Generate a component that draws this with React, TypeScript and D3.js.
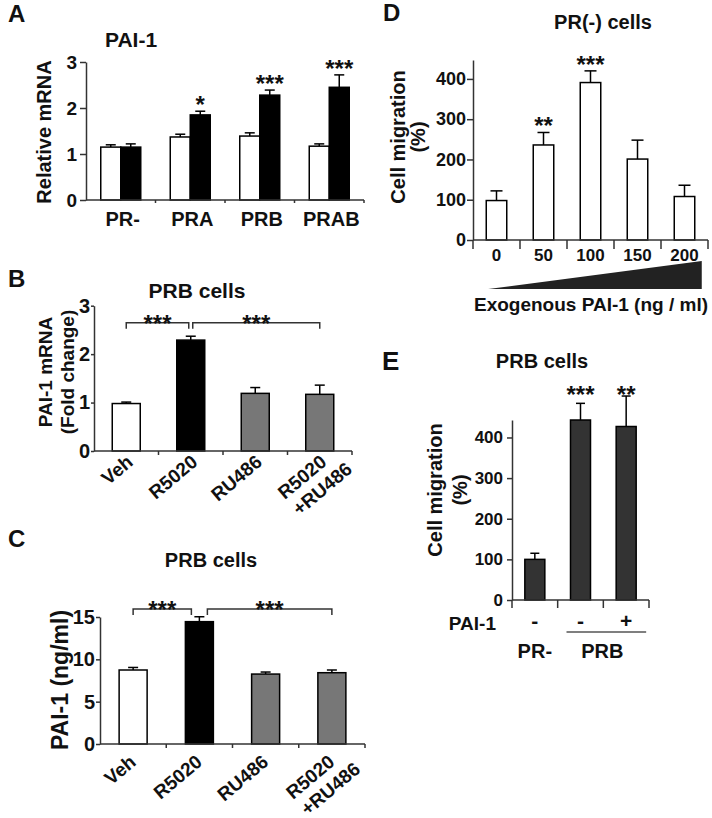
import { useEffect, useRef } from 'react';
import * as d3 from 'd3';

const FONT = '"Liberation Sans", Arial, Helvetica, sans-serif';
const AXIS = '#333';
const INK = '#111';

// Panel A: PAI-1 relative mRNA, control (white) vs R5020 (black)
const aCategories = ['PR-', 'PRA', 'PRB', 'PRAB'];
const aSeries = ['control', 'treated'];
const aControl = [1.15, 1.37, 1.39, 1.17];
const aControlErr = [0.05, 0.06, 0.07, 0.05];
const aTreated = [1.15, 1.85, 2.28, 2.45];
const aTreatedErr = [0.07, 0.08, 0.11, 0.27];
const aStars = ['', '*', '***', '***'];
const aTicks = [0, 1, 2, 3];

// Panel B: PAI-1 mRNA fold change in PRB cells
const bCategories = [['Veh'], ['R5020'], ['RU486'], ['R5020', '+RU486']];
const bValues = [0.98, 2.29, 1.19, 1.17];
const bErr = [0.03, 0.08, 0.12, 0.19];
const bFills = ['#fff', '#000', '#777', '#777'];
const bTicks = [0, 1, 2, 3];
const bBrackets = [
  { from: 0, to: 1, label: '***' },
  { from: 1, to: 3, label: '***' },
];
const bBracketLevel = 2.65;

// Panel C: secreted PAI-1 (ng/ml) in PRB cells
const cValues = [8.74, 14.45, 8.26, 8.42];
const cErr = [0.3, 0.58, 0.24, 0.32];
const cTicks = [0, 5, 10, 15];
const cBracketLevel = 15.94;

// Panel D: PR(-) cell migration vs exogenous PAI-1
const dCategories = ['0', '50', '100', '150', '200'];
const dValues = [98, 236, 391, 201, 108];
const dErr = [24, 31, 29, 47, 28];
const dStars = ['', '**', '***', '', ''];
const dTicks = [0, 100, 200, 300, 400];

// Panel E: PRB cell migration
const eCategories = ['PR- / -', 'PRB / -', 'PRB / +'];
const ePai1 = ['-', '-', '+'];
const eValues = [100, 443, 427];
const eErr = [15, 41, 75];
const eStars = ['', '***', '**'];
const eTicks = [0, 100, 200, 300, 400];

const STAR = 24;

type G = d3.Selection<SVGGElement, unknown, null, undefined>;

function txt(g: G, x: number, y: number, t: string, size: number, anchor = 'middle') {
  return g
    .append('text')
    .attr('x', x)
    .attr('y', y)
    .attr('text-anchor', anchor)
    .attr('font-family', FONT)
    .attr('font-weight', 'bold')
    .attr('font-size', size)
    .attr('fill', INK)
    .text(t);
}

function vtxt(g: G, cx: number, cy: number, t: string, size: number) {
  g.append('text')
    .attr('transform', `translate(${cx},${cy}) rotate(-90)`)
    .attr('text-anchor', 'middle')
    .attr('dy', '0.35em')
    .attr('font-family', FONT)
    .attr('font-weight', 'bold')
    .attr('font-size', size)
    .attr('fill', INK)
    .text(t);
}

function leftAxis(g: G, y: d3.ScaleLinear<number, number>, x0: number, ticks: number[], size: number, tickSize: number, pad: number) {
  const ax = g
    .append('g')
    .attr('transform', `translate(${x0},0)`)
    .call(d3.axisLeft(y).tickValues(ticks).tickSize(tickSize).tickSizeOuter(0).tickPadding(pad).tickFormat(d3.format('d')));
  ax.attr('font-family', FONT).attr('font-size', size);
  ax.select('.domain').attr('stroke', AXIS).attr('stroke-width', 1.5);
  ax.selectAll('.tick line').attr('stroke', AXIS).attr('stroke-width', 1.5);
  ax.selectAll('.tick text').attr('font-weight', 'bold').attr('fill', INK);
}

function bottomAxis(g: G, x: d3.ScaleBand<string>, y0: number, tickLen: number, from: number) {
  const [r0, r1] = x.range();
  g.append('line').attr('x1', r0).attr('x2', r1).attr('y1', y0).attr('y2', y0).attr('stroke', AXIS).attr('stroke-width', 1.5);
  g.selectAll(null)
    .data(d3.range(from, x.domain().length + 1))
    .join('line')
    .attr('x1', (i) => r0 + i * x.step())
    .attr('x2', (i) => r0 + i * x.step())
    .attr('y1', y0)
    .attr('y2', y0 + tickLen)
    .attr('stroke', AXIS)
    .attr('stroke-width', 1.5);
}

function band(domain: string[], r0: number, r1: number, barW: number) {
  const step = (r1 - r0) / domain.length;
  const pi = 1 - barW / step;
  return d3.scaleBand().domain(domain).range([r0, r1]).paddingInner(pi).paddingOuter(pi / 2);
}

type BarDatum = { x: number; w: number; v: number; e: number; fill: string };

function bars(g: G, y: d3.ScaleLinear<number, number>, data: BarDatum[], cap: number) {
  g.selectAll(null)
    .data(data)
    .join('line')
    .attr('x1', (d) => d.x + d.w / 2)
    .attr('x2', (d) => d.x + d.w / 2)
    .attr('y1', (d) => y(d.v))
    .attr('y2', (d) => y(d.v + d.e))
    .attr('stroke', '#000')
    .attr('stroke-width', 1.5);
  g.selectAll(null)
    .data(data)
    .join('line')
    .attr('x1', (d) => d.x + d.w / 2 - cap)
    .attr('x2', (d) => d.x + d.w / 2 + cap)
    .attr('y1', (d) => y(d.v + d.e))
    .attr('y2', (d) => y(d.v + d.e))
    .attr('stroke', '#000')
    .attr('stroke-width', 1.5);
  g.selectAll(null)
    .data(data)
    .join('rect')
    .attr('x', (d) => d.x)
    .attr('y', (d) => y(d.v))
    .attr('width', (d) => d.w)
    .attr('height', (d) => y(0) - y(d.v))
    .attr('fill', (d) => d.fill)
    .attr('stroke', '#000')
    .attr('stroke-width', 1.5);
}

function rotatedLabels(g: G, x: d3.ScaleBand<string>, keys: string[], lines: string[][], y0: number, dx: number, dy: number, size: number) {
  keys.forEach((k, i) => {
    const t = g
      .append('text')
      .attr('transform', `translate(${x(k)! + x.bandwidth() / 2 + dx},${y0 + dy}) rotate(-40)`)
      .attr('text-anchor', 'end')
      .attr('font-family', FONT)
      .attr('font-weight', 'bold')
      .attr('font-size', size)
      .attr('fill', INK);
    lines[i].forEach((line, j) => {
      t.append('tspan').attr('x', j === 0 ? 0 : 15).attr('dy', j === 0 ? 0 : 22).text(line);
    });
  });
}

function brackets(g: G, x: d3.ScaleBand<string>, keys: string[], list: { from: number; to: number; label: string }[], yb: number, gap: number) {
  list.forEach((b, i) => {
    const c0 = x(keys[b.from])! + x.bandwidth() / 2 + (i > 0 ? gap : 0);
    const c1 = x(keys[b.to])! + x.bandwidth() / 2 - (i < list.length - 1 ? gap : 0);
    g.append('path')
      .attr('d', `M${c0},${yb + 6}V${yb}H${c1}V${yb + 6}`)
      .attr('fill', 'none')
      .attr('stroke', AXIS)
      .attr('stroke-width', 1.5);
    txt(g, (c0 + c1) / 2, yb + 9, b.label, STAR);
  });
}

export default function App() {
  const ref = useRef<SVGSVGElement>(null);

  useEffect(() => {
    if (!ref.current) return;
    const svg = d3.select(ref.current);
    svg.selectAll('*').remove();
    const root = svg.append('g') as unknown as G;

    // ---------- A ----------
    {
      const g = root.append('g');
      const x = band(aCategories, 86, 364, 40);
      const xs = d3.scaleBand().domain(aSeries).range([0, x.bandwidth()]);
      const y = d3.scaleLinear().domain([0, 3]).range([200, 62]);
      txt(g, 8, 22, 'A', 24, 'start');
      txt(g, 105, 47, 'PAI-1', 21, 'start');
      vtxt(g, 44, 132, 'Relative mRNA', 20);
      const data: BarDatum[] = [];
      aCategories.forEach((c, i) => {
        data.push({ x: x(c)! + xs('control')!, w: xs.bandwidth(), v: aControl[i], e: aControlErr[i], fill: '#fff' });
        data.push({ x: x(c)! + xs('treated')!, w: xs.bandwidth(), v: aTreated[i], e: aTreatedErr[i], fill: '#000' });
      });
      bars(g, y, data, 5);
      leftAxis(g, y, 86, aTicks, 19, 6, 3);
      bottomAxis(g, x, 200, 3, 1);
      aCategories.forEach((c, i) => {
        txt(g, x(c)! + x.bandwidth() / 2 + 2, 226, c, 20);
        if (aStars[i]) txt(g, x(c)! + xs('treated')! + xs.bandwidth() / 2, y(aTreated[i] + aTreatedErr[i]) + 2, aStars[i], STAR);
      });
    }

    // ---------- B ----------
    const bKeys = bCategories.map((c) => c.join(' '));
    {
      const g = root.append('g');
      const x = band(bKeys, 94, 352, 28);
      const y = d3.scaleLinear().domain([0, 3]).range([451, 305.7]);
      txt(g, 8, 287, 'B', 24, 'start');
      txt(g, 197, 298, 'PRB cells', 21);
      vtxt(g, 45, 372, 'PAI-1 mRNA', 19);
      vtxt(g, 67, 372, '(Fold change)', 19);
      bars(
        g,
        y,
        bKeys.map((k, i) => ({ x: x(k)!, w: x.bandwidth(), v: bValues[i], e: bErr[i], fill: bFills[i] })),
        5
      );
      leftAxis(g, y, 94, bTicks, 20, 3, 1);
      bottomAxis(g, x, 451, 4, 1);
      rotatedLabels(g, x, bKeys, bCategories, 451, 8, 13, 19);
      brackets(g, x, bKeys, bBrackets, y(bBracketLevel), 2);
    }

    // ---------- C ----------
    {
      const g = root.append('g');
      const x = band(bKeys, 100, 365, 28);
      const y = d3.scaleLinear().domain([0, 15]).range([744, 617]);
      txt(g, 8, 547, 'C', 24, 'start');
      txt(g, 211, 567, 'PRB cells', 20);
      vtxt(g, 60, 680, 'PAI-1 (ng/ml)', 23);
      bars(
        g,
        y,
        bKeys.map((k, i) => ({ x: x(k)!, w: x.bandwidth(), v: cValues[i], e: cErr[i], fill: bFills[i] })),
        5
      );
      leftAxis(g, y, 100, cTicks, 20, 4, 1);
      bottomAxis(g, x, 744, 4, 1);
      rotatedLabels(g, x, bKeys, bCategories, 744, 4, 20, 19);
      brackets(g, x, bKeys, bBrackets, y(cBracketLevel), 8);
    }

    // ---------- D ----------
    {
      const g = root.append('g');
      const x = band(dCategories, 473, 708, 20.5);
      const y = d3.scaleLinear().domain([0, 447]).range([240, 60]);
      txt(g, 383, 21, 'D', 24, 'start');
      txt(g, 603, 29, 'PR(-) cells', 20);
      vtxt(g, 398, 137, 'Cell migration', 20);
      vtxt(g, 418, 137, '(%)', 20);
      bars(
        g,
        y,
        dCategories.map((k, i) => ({ x: x(k)!, w: x.bandwidth(), v: dValues[i], e: dErr[i], fill: '#fff' })),
        6
      );
      leftAxis(g, y, 473, dTicks, 18, 6, 1);
      bottomAxis(g, x, 240, 9, 0);
      dCategories.forEach((c, i) => {
        txt(g, x(c)! + x.bandwidth() / 2, 261, c, 17);
        if (dStars[i]) txt(g, x(c)! + x.bandwidth() / 2, y(dValues[i] + dErr[i]) + 2, dStars[i], STAR);
      });
      const first = dCategories[0];
      const last = dCategories[dCategories.length - 1];
      const tx0 = x(first)! + 2;
      const tx1 = x(last)! + x.bandwidth() + 7;
      g.append('path').attr('d', `M${tx0},289L${tx1},261L${tx1},289Z`).attr('fill', '#222');
      txt(g, 591, 311, 'Exogenous PAI-1 (ng / ml)', 19);
    }

    // ---------- E ----------
    {
      const g = root.append('g');
      const x = band(eCategories, 512, 649, 20);
      const y = d3.scaleLinear().domain([0, 443]).range([600, 420]);
      txt(g, 382, 370, 'E', 26, 'start');
      txt(g, 542, 368, 'PRB cells', 20);
      vtxt(g, 435, 490, 'Cell migration', 20);
      vtxt(g, 460, 490, '(%)', 20);
      bars(
        g,
        y,
        eCategories.map((k, i) => ({ x: x(k)!, w: x.bandwidth(), v: eValues[i], e: eErr[i], fill: '#333' })),
        4.5
      );
      leftAxis(g, y, 512, eTicks, 17, 5, 4);
      bottomAxis(g, x, 600, 8, 0);
      const starTop = d3.min(eCategories.map((_, i) => y(eValues[i] + eErr[i])))!;
      eCategories.forEach((c, i) => {
        const cx = x(c)! + x.bandwidth() / 2;
        txt(g, cx, 628, ePai1[i], 21);
        if (eStars[i]) txt(g, cx, starTop + 7, eStars[i], STAR);
      });
      txt(g, 496, 630, 'PAI-1', 19, 'end');
      const l0 = x(eCategories[1])! - 4;
      const l1 = x(eCategories[2])! + x.bandwidth() + 10;
      g.append('line').attr('x1', l0).attr('x2', l1).attr('y1', 632).attr('y2', 632).attr('stroke', '#555').attr('stroke-width', 1.5);
      txt(g, x(eCategories[0])! + x.bandwidth() / 2, 658, 'PR-', 20);
      txt(g, (l0 + l1) / 2 - 4, 658, 'PRB', 20);
    }
  }, []);

  return (
    <svg
      ref={ref}
      width={712}
      height={818}
      style={{ position: 'absolute', left: 0, top: 0, background: '#fff' }}
    />
  );
}
